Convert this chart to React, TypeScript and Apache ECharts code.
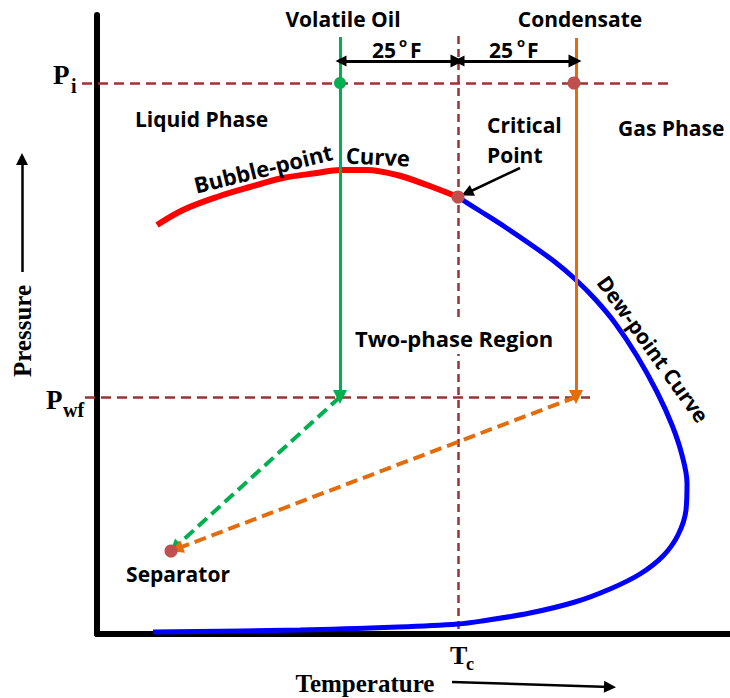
import React, { useEffect, useRef } from 'react';
import * as echarts from 'echarts';

// Phase envelope (Temperature units, Pressure units)
const bubbleT = [60, 86, 120, 153, 186, 220, 243, 270, 300, 330, 361];
const bubbleP = [409, 424, 437, 447, 456, 461, 464, 464, 459, 449, 437];
const dewT = [361, 383, 408, 433, 458, 478, 498, 518, 540, 560, 575, 585, 590, 589, 581, 566, 543, 513, 478, 433, 385, 361, 301, 203, 56];
const dewP = [437, 423, 407, 390, 372, 355, 335, 311, 278, 242, 209, 179, 151, 124, 99, 78, 60, 45, 32, 21, 13, 10, 7, 4, 2];

const criticalT = 361;
const criticalP = 437;
const initialP = 551; // Pi
const flowingP = 237; // Pwf
const volatileOilT = 243;
const condensateT = 479;
const separatorT = 74;
const separatorP = 83;

const BROWN = '#943634';
const DOT = '#C0504D';
const GREEN = '#00B050';
const ORANGE = '#E46C0A';
const SANS = '"Open Sans"';
const SERIF = '"Liberation Serif"';

function shorten(a: number[], b: number[], d: number) {
  const dx = b[0] - a[0];
  const dy = b[1] - a[1];
  const len = Math.sqrt(dx * dx + dy * dy);
  return [b[0] - (dx / len) * d, b[1] - (dy / len) * d];
}

export default function App() {
  const ref = useRef<HTMLDivElement>(null);
  useEffect(() => {
    const chart = echarts.init(ref.current!, null, { renderer: 'svg' });
    const sep = [separatorT, separatorP];
    const greenStart = [volatileOilT, flowingP];
    const orangeStart = [condensateT, flowingP];

    const txt = (text: string, x: number, y: number, opts: any = {}) => ({
      type: 'text',
      x,
      y,
      rotation: opts.rotation || 0,
      z: 100,
      style: {
        text,
        font: opts.font || `bold 21px ${SANS}`,
        fill: '#000',
        align: opts.align || 'left',
        verticalAlign: 'middle',
        backgroundColor: opts.bg,
        padding: opts.padding,
      },
    });

    const option: any = {
      animation: false,
      backgroundColor: '#fff',
      grid: { left: 97, right: 0, top: 15, bottom: 64 },
      xAxis: {
        type: 'value',
        min: 0,
        max: 633,
        axisLine: { show: true, onZero: false, lineStyle: { color: '#000', width: 6 } },
        axisTick: { show: false },
        axisLabel: { show: false },
        splitLine: { show: false },
      },
      yAxis: {
        type: 'value',
        min: 0,
        max: 619,
        axisLine: { show: true, onZero: false, lineStyle: { color: '#000', width: 6 } },
        axisTick: { show: false },
        axisLabel: { show: false },
        splitLine: { show: false },
      },
      series: [
        {
          type: 'lines',
          coordinateSystem: 'cartesian2d',
          clip: false,
          z: 1,
          lineStyle: { color: BROWN, width: 2.5, type: [10, 6], opacity: 1 },
          data: [
            { coords: [[-15, initialP], [576, initialP]] },
            { coords: [[-12, flowingP], [493, flowingP]] },
          ],
        },
        {
          type: 'lines',
          coordinateSystem: 'cartesian2d',
          clip: false,
          z: 1,
          lineStyle: { color: BROWN, width: 2.5, type: [8, 5], opacity: 1 },
          data: [{ coords: [[criticalT, 598], [criticalT, 0]] }],
        },
        {
          type: 'line',
          smooth: 0.35,
          showSymbol: false,
          z: 3,
          lineStyle: { color: '#FF0000', width: 6 },
          data: bubbleT.map((t, i) => [t, bubbleP[i]]),
        },
        {
          type: 'line',
          smooth: 0.35,
          showSymbol: false,
          z: 3,
          lineStyle: { color: '#0000FF', width: 5 },
          data: dewT.map((t, i) => [t, dewP[i]]),
        },
        {
          type: 'lines',
          coordinateSystem: 'cartesian2d',
          clip: false,
          z: 4,
          symbol: ['none', 'triangle'],
          symbolSize: [13, 14],
          lineStyle: { width: 3, opacity: 1 },
          data: [
            { coords: [[volatileOilT, 597], [volatileOilT, flowingP]], lineStyle: { color: GREEN }, itemStyle: { color: GREEN } },
            { coords: [[condensateT, 596], [condensateT, flowingP]], lineStyle: { color: ORANGE }, itemStyle: { color: ORANGE } },
          ],
        },
        {
          type: 'lines',
          coordinateSystem: 'cartesian2d',
          clip: false,
          z: 4,
          symbol: ['none', 'triangle'],
          symbolSize: [13, 13],
          lineStyle: { width: 4, type: [12, 6], opacity: 1 },
          data: [
            { coords: [greenStart, shorten(greenStart, sep, 5)], lineStyle: { color: GREEN }, itemStyle: { color: GREEN } },
            { coords: [orangeStart, shorten(orangeStart, sep, 6)], lineStyle: { color: ORANGE }, itemStyle: { color: ORANGE } },
          ],
        },
        {
          type: 'lines',
          coordinateSystem: 'cartesian2d',
          clip: false,
          z: 4,
          symbol: ['triangle', 'triangle'],
          symbolSize: [11, 13],
          lineStyle: { width: 3, color: '#000', opacity: 1 },
          itemStyle: { color: '#000' },
          data: [
            { coords: [[volatileOilT + 1, 573], [criticalT - 1, 573]] },
            { coords: [[criticalT + 1, 573], [condensateT - 1, 573]] },
          ],
        },
        {
          type: 'lines',
          coordinateSystem: 'cartesian2d',
          clip: false,
          z: 4,
          symbol: ['none', 'triangle'],
          symbolSize: [10, 12],
          lineStyle: { width: 2.5, color: '#000', opacity: 1 },
          itemStyle: { color: '#000' },
          data: [
            { coords: [[423, 466], [370, 441]] },
            { coords: [[-75, 362], [-75, 475]] },
            { coords: [[355, -48], [513, -53]] },
          ],
        },
        {
          type: 'scatter',
          z: 5,
          symbolSize: 13,
          itemStyle: { color: DOT, opacity: 1 },
          data: [
            [condensateT - 2, initialP],
            [criticalT, criticalP],
            [separatorT, separatorP],
          ],
        },
        {
          type: 'scatter',
          z: 5,
          symbolSize: 12,
          itemStyle: { color: GREEN, opacity: 1 },
          data: [[volatileOilT, initialP]],
        },
      ],
      graphic: [
        txt('Volatile Oil', 343, 19, { align: 'center' }),
        txt('Condensate', 580, 19, { align: 'center' }),
        txt('25', 372, 50),
        txt('o', 399, 42, { font: `bold 13px ${SANS}` }),
        txt('F', 410, 50),
        txt('25', 489, 50),
        txt('o', 517, 42, { font: `bold 13px ${SANS}` }),
        txt('F', 527, 50),
        txt('Liquid Phase', 135, 119),
        txt('Critical', 487, 125),
        txt('Point', 487, 155),
        txt('Gas Phase', 618, 128),
        txt('Two-phase Region', 355, 338, { bg: '#fff', padding: [5, 0, 5, 0], font: `bold 22px ${SANS}` }),
        txt('Separator', 178, 574, { align: 'center' }),
        txt('Bubble-point', 263, 168, { align: 'center', rotation: 0.24, font: `bold 22px ${SANS}` }),
        txt('Curve', 378, 156, { align: 'center', rotation: -0.05, font: `bold 22px ${SANS}` }),
        txt('Dew-point Curve', 653, 349, { align: 'center', rotation: -0.95 }),
        txt('P', 53, 75, { font: `bold 27px ${SERIF}` }),
        txt('i', 71, 86, { font: `bold 20px ${SERIF}` }),
        txt('P', 46, 400, { font: `bold 27px ${SERIF}` }),
        txt('wf', 63, 410, { font: `bold 20px ${SERIF}` }),
        txt('T', 450, 655, { font: `bold 26px ${SERIF}` }),
        txt('c', 466, 664, { font: `bold 18px ${SERIF}` }),
        txt('Pressure', 22, 331, { align: 'center', rotation: Math.PI / 2, font: `bold 25px ${SERIF}` }),
        txt('Temperature', 365, 683, { align: 'center', font: `bold 25px ${SERIF}` }),
      ],
    };
    chart.setOption(option);
    return () => chart.dispose();
  }, []);
  return (
    <div
      ref={ref}
      style={{ position: 'fixed', left: 0, top: 0, width: 730, height: 698 }}
    />
  );
}
